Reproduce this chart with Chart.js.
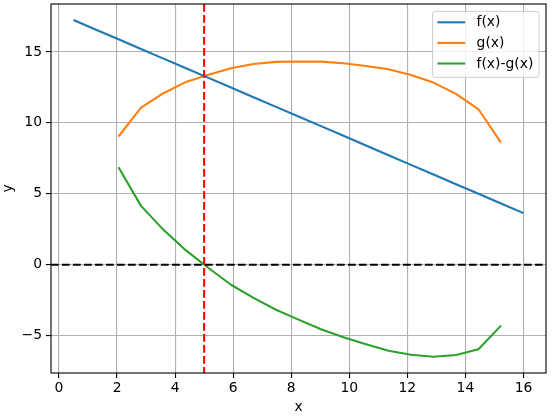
<!DOCTYPE html>
<html>
<head>
<meta charset="utf-8">
<script src="https://cdn.jsdelivr.net/npm/chart.js@4/dist/chart.umd.min.js"></script>
<style>
  html, body { margin: 0; padding: 0; background: #fff; }
  #wrap { width: 553px; height: 419px; }
</style>
</head>
<body>
<div id="wrap"><canvas id="chart" width="553" height="419"></canvas></div>
<script>
// sample points shared by the three curves
const xValues = [0.5, 1.275, 2.05, 2.825, 3.6, 4.375, 5.15, 5.925, 6.7, 7.475, 8.25,
  9.025, 9.8, 10.575, 11.35, 12.125, 12.9, 13.675, 14.45, 15.225, 16];
const fValues = [17.25, 16.57, 15.89, 15.21, 14.53, 13.85, 13.17, 12.49, 11.81, 11.13, 10.45,
  9.77, 9.09, 8.41, 7.72, 7.04, 6.36, 5.68, 5.0, 4.32, 3.64];
// g and f-g only exist from x = 2.05 to x = 15.225
const gX = xValues.slice(2, 20);
const gValues = [9.04, 11.08, 12.09, 12.89, 13.4, 13.85, 14.15, 14.3, 14.33, 14.32,
  14.2, 14.01, 13.78, 13.38, 12.84, 12.04, 10.96, 8.61];
const diffValues = [6.88, 4.15, 2.46, 1.01, -0.23, -1.41, -2.34, -3.17, -3.87, -4.55,
  -5.11, -5.6, -6.06, -6.34, -6.48, -6.36, -5.96, -4.29];

const xTicks = [0, 2, 4, 6, 8, 10, 12, 14, 16];
const yTicks = [-5, 0, 5, 10, 15];
const xLimits = [-0.275, 16.775];
const yLimits = [-7.63, 18.38];

const refX = 5; // red dashed vertical
const refY = 0; // black dashed horizontal

const FONT = "DejaVu Sans";
const FONT_SIZE = 13.9;
const LW = 2.08;
const DASH = [7.7, 3.3];

Chart.defaults.font.family = FONT;
Chart.defaults.font.size = FONT_SIZE;
Chart.defaults.color = "#000";

function toPoints(xs, ys) {
  return xs.map((x, i) => ({ x: x, y: ys[i] }));
}

function tickLabel(v) {
  return v < 0 ? "\u2212" + Math.abs(v) : String(v);
}

function noPadding(scale) {
  scale.paddingTop = 0;
  scale.paddingBottom = 0;
  scale.paddingLeft = 0;
  scale.paddingRight = 0;
}

const extrasPlugin = {
  id: "extras",
  afterDatasetsDraw(chart) {
    const ctx = chart.ctx;
    const area = chart.chartArea;
    const xs = chart.scales.x;
    const ys = chart.scales.y;

    // reference lines
    ctx.save();
    ctx.beginPath();
    ctx.rect(area.left, area.top, area.right - area.left, area.bottom - area.top);
    ctx.clip();
    ctx.lineWidth = LW;
    ctx.setLineDash(DASH);
    const px = xs.getPixelForValue(refX);
    ctx.strokeStyle = "#ff0000";
    ctx.beginPath();
    ctx.moveTo(px, area.top);
    ctx.lineTo(px, area.bottom);
    ctx.stroke();
    const py = ys.getPixelForValue(refY);
    ctx.strokeStyle = "#000000";
    ctx.beginPath();
    ctx.moveTo(area.left, py);
    ctx.lineTo(area.right, py);
    ctx.stroke();
    ctx.restore();

    // spines
    ctx.save();
    ctx.strokeStyle = "#000";
    ctx.lineWidth = 1.1;
    ctx.strokeRect(area.left, area.top, area.right - area.left, area.bottom - area.top);
    ctx.restore();

    // legend box, upper right
    ctx.save();
    ctx.font = FONT_SIZE + 'px "' + FONT + '"';
    const sets = chart.data.datasets;
    let tw = 0;
    sets.forEach((ds) => {
      tw = Math.max(tw, ctx.measureText(ds.label).width);
    });
    const boxW = 44 + tw + 5.6;
    const boxH = 66;
    const boxX = area.right - 7 - boxW;
    const boxY = area.top + 7.3;
    ctx.beginPath();
    ctx.roundRect(boxX, boxY, boxW, boxH, 2.8);
    ctx.fillStyle = "rgba(255,255,255,0.8)";
    ctx.fill();
    ctx.strokeStyle = "#cccccc";
    ctx.lineWidth = 1;
    ctx.stroke();
    sets.forEach((ds, i) => {
      const y = boxY + 11 + i * 20.6;
      ctx.strokeStyle = ds.borderColor;
      ctx.lineWidth = LW;
      ctx.beginPath();
      ctx.moveTo(boxX + 4.8, y);
      ctx.lineTo(boxX + 4.8 + 27.8, y);
      ctx.stroke();
      ctx.fillStyle = "#000";
      ctx.textBaseline = "middle";
      ctx.textAlign = "left";
      ctx.fillText(ds.label, boxX + 44, y + 0.5);
    });
    ctx.restore();
  },
};

const lineStyle = {
  borderWidth: LW,
  pointRadius: 0,
  tension: 0,
  fill: false,
  borderJoinStyle: "round",
};

new Chart(document.getElementById("chart").getContext("2d"), {
  type: "line",
  data: {
    datasets: [
      Object.assign({ label: "f(x)", data: toPoints(xValues, fValues), borderColor: "#1f77b4" }, lineStyle),
      Object.assign({ label: "g(x)", data: toPoints(gX, gValues), borderColor: "#ff7f0e" }, lineStyle),
      Object.assign({ label: "f(x)-g(x)", data: toPoints(gX, diffValues), borderColor: "#2ca02c" }, lineStyle),
    ],
  },
  options: {
    responsive: false,
    animation: false,
    devicePixelRatio: 1,
    layout: { padding: { left: 0, right: 7, top: 4, bottom: 0 } },
    plugins: {
      legend: { display: false },
      tooltip: { enabled: false },
    },
    scales: {
      x: {
        type: "linear",
        min: xLimits[0],
        max: xLimits[1],
        afterBuildTicks: (scale) => {
          scale.ticks = xTicks.map((v) => ({ value: v }));
        },
        afterFit: (scale) => {
          scale.height = 46;
          noPadding(scale);
        },
        grid: { color: "#b0b0b0", lineWidth: 1.1, tickColor: "#000", tickLength: 5, tickWidth: 1.1 },
        border: { display: false },
        ticks: { callback: tickLabel, padding: 2, maxRotation: 0, autoSkip: false },
        title: { display: true, text: "x", padding: { top: 0, bottom: 3 } },
      },
      y: {
        type: "linear",
        min: yLimits[0],
        max: yLimits[1],
        afterBuildTicks: (scale) => {
          scale.ticks = yTicks.map((v) => ({ value: v }));
        },
        afterFit: (scale) => {
          scale.width = 51;
          noPadding(scale);
        },
        grid: { color: "#b0b0b0", lineWidth: 1.1, tickColor: "#000", tickLength: 5, tickWidth: 1.1 },
        border: { display: false },
        ticks: { callback: tickLabel, padding: 4, autoSkip: false },
        title: { display: true, text: "y", padding: { top: 0, bottom: 0 } },
      },
    },
  },
  plugins: [extrasPlugin],
});
</script>
</body>
</html>
